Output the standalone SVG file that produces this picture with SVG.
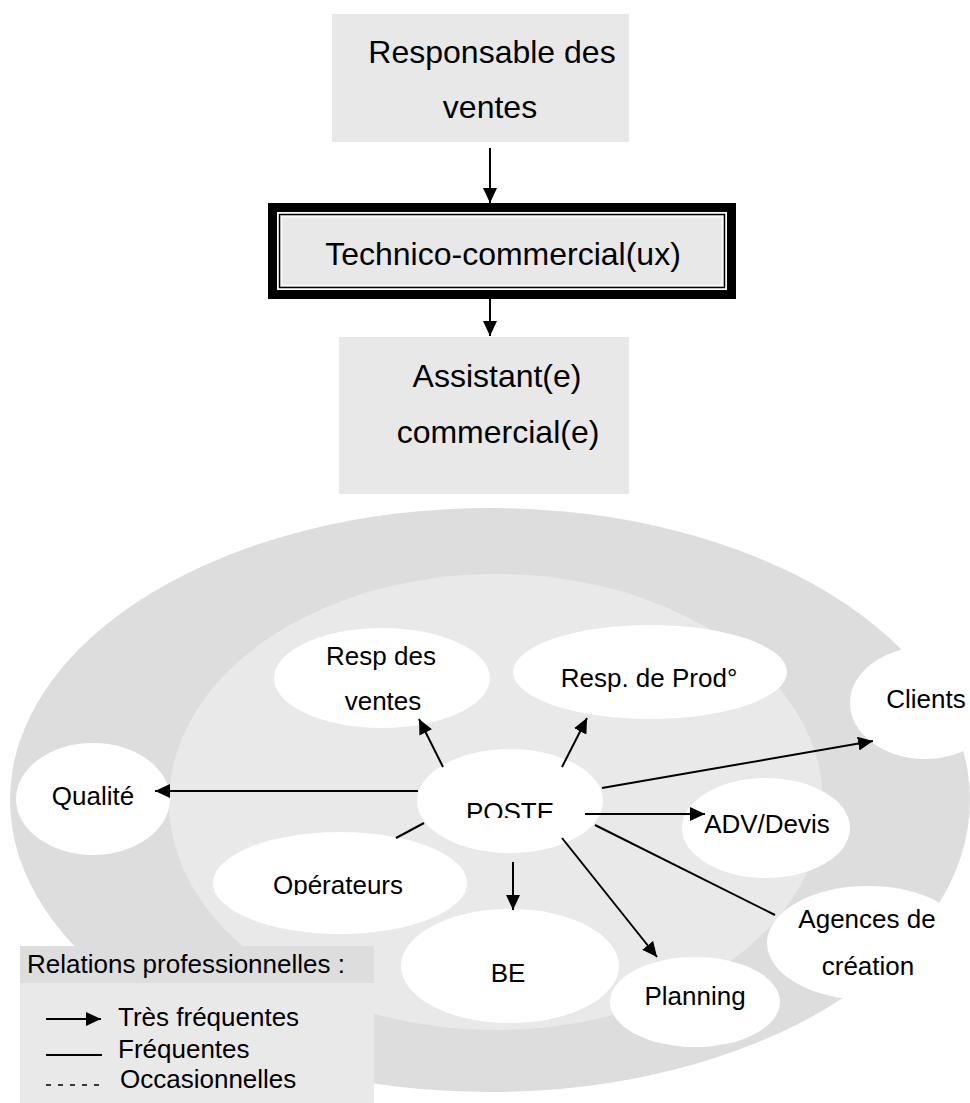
<svg xmlns="http://www.w3.org/2000/svg" width="970" height="1103" viewBox="0 0 970 1103">
  <style>
    .box { fill: #e8e8e8; }
    .big { font-family: "Liberation Sans", Arial, sans-serif; font-size: 32px; fill: #000; text-anchor: middle; }
    .lbl { font-family: "Liberation Sans", Arial, sans-serif; font-size: 26px; fill: #000; text-anchor: middle; }
    .leg { font-family: "Liberation Sans", Arial, sans-serif; font-size: 26px; fill: #000; }
    .node { fill: #fff; }
    .link { stroke: #000; stroke-width: 2; fill: none; }
    .arrow { marker-end: url(#head); }
  </style>
  <defs>
    <marker id="head" markerUnits="userSpaceOnUse" markerWidth="16" markerHeight="14" refX="15" refY="7" orient="auto">
      <path d="M0,0 L15,7 L0,14 z" fill="#000"/>
    </marker>
    <clipPath id="clipPoste"><rect x="400" y="760" width="220" height="58"/></clipPath>
    <clipPath id="clipOper"><rect x="200" y="840" width="280" height="55"/></clipPath>
  </defs>

  <rect width="970" height="1103" fill="#fff"/>

  <!-- hierarchy -->
  <g id="responsable">
    <rect class="box" x="332" y="14" width="297" height="128"/>
    <text class="big" x="492" y="63">Responsable des</text>
    <text class="big" x="490" y="118">ventes</text>
  </g>
  <g id="technico">
    <rect x="268" y="203" width="468" height="96" fill="#000"/>
    <rect x="277" y="212" width="450" height="78" fill="#fff"/>
    <rect x="279.5" y="214.5" width="445" height="73" fill="#e8e8e8" stroke="#000" stroke-width="1.5"/>
    <rect x="281.8" y="216.8" width="440.4" height="68.4" fill="none" stroke="#fff" stroke-width="1"/>
    <text class="big" x="503" y="265">Technico-commercial(ux)</text>
  </g>
  <g id="assistant">
    <rect class="box" x="339" y="337" width="290" height="157"/>
    <text class="big" x="497" y="387">Assistant(e)</text>
    <text class="big" x="498" y="443">commercial(e)</text>
  </g>

  <!-- relation circles -->
  <g id="rings">
    <ellipse cx="490" cy="800" rx="480" ry="292" fill="#dddddd"/>
    <ellipse cx="496" cy="802" rx="327" ry="228" fill="#e9e9e9"/>
  </g>

  <g id="qualite">
    <ellipse class="node" cx="93" cy="799" rx="77" ry="56"/>
    <text class="lbl" x="93" y="805">Qualité</text>
  </g>
  <g id="resp-ventes">
    <ellipse class="node" cx="382" cy="678" rx="108" ry="50"/>
    <text class="lbl" x="381" y="665">Resp des</text>
    <text class="lbl" x="383" y="710">ventes</text>
  </g>
  <g id="resp-prod">
    <ellipse class="node" cx="650" cy="672" rx="137" ry="47"/>
    <text class="lbl" x="649" y="687">Resp. de Prod°</text>
  </g>
  <g id="clients">
    <ellipse class="node" cx="925" cy="703" rx="75" ry="56"/>
    <text class="lbl" x="926" y="708">Clients</text>
  </g>
  <g id="poste">
    <ellipse class="node" cx="510" cy="801" rx="93" ry="52"/>
    <text class="lbl" x="510" y="821" clip-path="url(#clipPoste)">POSTE</text>
  </g>
  <g id="operateurs">
    <ellipse class="node" cx="340" cy="883" rx="127" ry="51"/>
    <text class="lbl" x="338" y="894" clip-path="url(#clipOper)">Opérateurs</text>
  </g>
  <g id="adv">
    <ellipse class="node" cx="766" cy="828" rx="84" ry="50"/>
    <text class="lbl" x="767" y="833">ADV/Devis</text>
  </g>
  <g id="agences">
    <ellipse class="node" cx="868" cy="943" rx="101" ry="57"/>
    <text class="lbl" x="867" y="928">Agences de</text>
    <text class="lbl" x="868" y="975">création</text>
  </g>
  <g id="be">
    <ellipse class="node" cx="510" cy="966" rx="109" ry="57"/>
    <text class="lbl" x="508" y="982">BE</text>
  </g>
  <g id="planning">
    <ellipse class="node" cx="695" cy="1002" rx="85" ry="45"/>
    <text class="lbl" x="695" y="1005">Planning</text>
  </g>

  <!-- connectors -->
  <g id="connectors">
    <line class="link arrow" x1="490" y1="148" x2="490" y2="203"/>
    <line class="link arrow" x1="490" y1="299" x2="490" y2="336"/>
    <line class="link arrow" x1="418" y1="791" x2="155" y2="791"/>
    <line class="link arrow" x1="443" y1="767" x2="419" y2="719"/>
    <line class="link arrow" x1="562" y1="767" x2="587" y2="718"/>
    <line class="link arrow" x1="602" y1="788" x2="873" y2="741"/>
    <line class="link arrow" x1="585" y1="814" x2="705" y2="814"/>
    <line class="link" x1="595" y1="825" x2="775" y2="915"/>
    <line class="link arrow" x1="562" y1="838" x2="657" y2="957"/>
    <line class="link arrow" x1="513" y1="862" x2="513" y2="910"/>
    <line class="link" x1="424" y1="823" x2="396" y2="838"/>
  </g>

  <!-- legend -->
  <g id="legend">
    <rect x="20" y="946" width="354" height="37" fill="#dddddd"/>
    <rect x="20" y="983" width="354" height="120" fill="#e9e9e9"/>
    <text class="leg" x="27" y="973">Relations professionnelles :</text>
    <line class="link arrow" x1="46" y1="1019" x2="101" y2="1019"/>
    <text class="leg" x="118" y="1026">Très fréquentes</text>
    <line class="link" x1="46" y1="1055" x2="102" y2="1055"/>
    <text class="leg" x="118" y="1058">Fréquentes</text>
    <line x1="46" y1="1085" x2="104" y2="1085" stroke="#000" stroke-width="1.5" stroke-dasharray="5 7"/>
    <text class="leg" x="120" y="1088">Occasionnelles</text>
  </g>
</svg>
